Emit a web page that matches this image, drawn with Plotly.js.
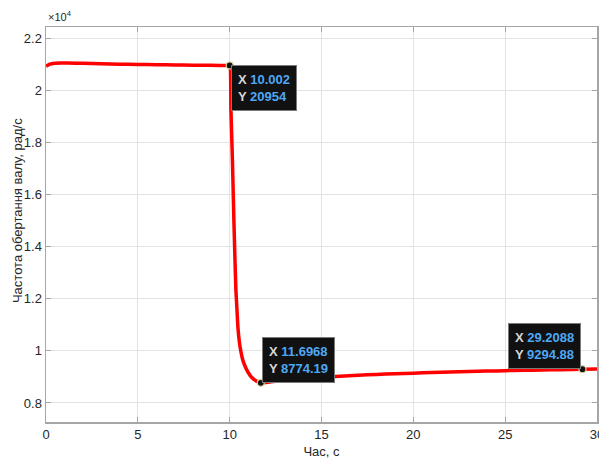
<!DOCTYPE html>
<html>
<head>
<meta charset="utf-8">
<script src="https://cdn.plot.ly/plotly-3.0.1.min.js"></script>
<style>
html,body{margin:0;padding:0;background:#fff;}
#chart{width:599px;height:459px;}
</style>
</head>
<body>
<div id="chart"></div>
<script>
// Time, s
const timeS = [0, 0.15, 0.3, 0.5, 0.8, 1.2, 2, 3, 4, 5, 6, 7, 8, 9, 9.9, 10.002,
  10.07, 10.15, 10.23, 10.29, 10.34, 10.40, 10.45, 10.53, 10.62, 10.72, 10.89, 11.11, 11.32, 11.49, 11.6968,
  12, 12.5, 13, 14, 15, 16, 17, 18, 19, 20, 21, 22, 23, 24, 25, 26, 27, 28, 29.2088, 30];
// Shaft rotational speed, rad/s
const speedRad = [20920, 20985, 21020, 21040, 21048, 21046, 21035, 21020, 21005, 20992, 20982, 20972, 20965, 20959, 20955, 20954,
  19235, 17315, 15011, 13475, 12323, 11555, 10902, 10326, 9942, 9635, 9328, 9059, 8906, 8829, 8774.19,
  8790, 8830, 8870, 8935, 8985, 9030, 9065, 9095, 9120, 9145, 9168, 9188, 9207, 9224, 9240, 9254, 9267, 9279, 9294.88, 9302];

// Data tips
const tipX = [10.002, 11.6968, 29.2088];
const tipY = [20954, 8774.19, 9294.88];
const tipXLabel = ['10.002', '11.6968', '29.2088'];
const tipYLabel = ['20954', '8774.19', '9294.88'];

// Axis ticks
const xTickVals = [0, 5, 10, 15, 20, 25, 30];
const yTickVals = [8000, 10000, 12000, 14000, 16000, 18000, 20000, 22000];
const yTickText = ['0.8', '1', '1.2', '1.4', '1.6', '1.8', '2', '2.2'];

const FONT = 'Liberation Sans, Arial, Helvetica, sans-serif';

const traces = [
  {
    x: timeS, y: speedRad, type: 'scatter', mode: 'lines',
    line: {color: '#ff0000', width: 3.5, shape: 'spline', smoothing: 0.5}, hoverinfo: 'skip'
  },
  {
    x: tipX, y: tipY, type: 'scatter', mode: 'markers',
    marker: {color: '#111111', size: 7, line: {color: '#d8d4a0', width: 1.2}},
    hoverinfo: 'skip'
  }
];

const anchors = [
  {xanchor: 'left', yanchor: 'top', xshift: 1},
  {xanchor: 'left', yanchor: 'bottom', xshift: 1},
  {xanchor: 'right', yanchor: 'bottom', xshift: -1}
];

const annotations = tipX.map((x, i) => Object.assign({
  x: x, y: tipY[i], xref: 'x', yref: 'y', showarrow: false, align: 'left',
  bgcolor: '#111111', bordercolor: '#7a7a7a', borderwidth: 1, borderpad: 6,
  font: {family: FONT, size: 13, color: '#dddddd'},
  text: '<b><span style="color:#d6d6d6">X</span> <span style="color:#4ea8f5">' + tipXLabel[i] +
        '</span><br><span style="color:#d6d6d6">Y</span> <span style="color:#4ea8f5">' + tipYLabel[i] + '</span></b>'
}, anchors[i]));

annotations.push({
  xref: 'paper', yref: 'paper', x: 0, y: 1, xanchor: 'left', yanchor: 'bottom', yshift: 2,
  showarrow: false, text: '×10<sup>4</sup>', font: {family: FONT, size: 11, color: '#262626'}
});

annotations.push({
  xref: 'paper', yref: 'paper', x: 0, y: 0.534, xanchor: 'center', yanchor: 'middle', xshift: -29,
  showarrow: false, textangle: -90, text: 'Частота обертання валу, рад/с',
  font: {family: FONT, size: 13, color: '#262626'}
});

const layout = {
  width: 599, height: 459,
  margin: {l: 46, r: 2, t: 27, b: 37},
  paper_bgcolor: '#ffffff', plot_bgcolor: '#ffffff',
  showlegend: false,
  font: {family: FONT, size: 13, color: '#262626'},
  xaxis: {
    range: [0, 30], tickvals: xTickVals, ticklabeloverflow: 'allow',
    showgrid: true, gridcolor: '#e3e3e3', gridwidth: 1,
    zeroline: false, showline: true, linecolor: '#a6a6a6', linewidth: 1.5, mirror: 'ticks',
    ticks: 'inside', ticklen: 5, tickcolor: '#a6a6a6', tickwidth: 1,
    tickfont: {family: FONT, size: 13, color: '#262626'},
    title: {text: 'Час, с', font: {family: FONT, size: 13, color: '#262626'}, standoff: 6}
  },
  yaxis: {
    range: [7270, 22430], tickvals: yTickVals, ticktext: yTickText,
    showgrid: true, gridcolor: '#e3e3e3', gridwidth: 1,
    zeroline: false, showline: true, linecolor: '#a6a6a6', linewidth: 1.5, mirror: 'ticks',
    ticks: 'inside', ticklen: 5, tickcolor: '#a6a6a6', tickwidth: 1,
    tickfont: {family: FONT, size: 13, color: '#262626'}
  },
  annotations: annotations
};

Plotly.newPlot('chart', traces, layout, {staticPlot: true, displayModeBar: false});
</script>
</body>
</html>
